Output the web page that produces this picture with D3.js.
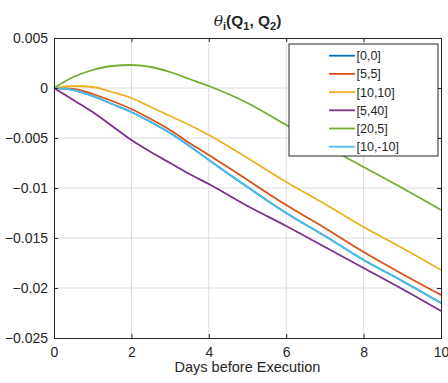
<!DOCTYPE html>
<html>
<head>
<meta charset="utf-8">
<script src="https://cdn.jsdelivr.net/npm/d3@7"></script>
<style>
  body { margin: 0; background: #fff; }
  #chart { width: 448px; height: 383px; }
  text { font-family: "Liberation Sans", Arial, Helvetica, sans-serif; fill: #262626; }
</style>
</head>
<body>
<div id="chart"></div>
<script>
const days = [0, 0.5, 1, 1.5, 2, 2.5, 3, 3.5, 4, 5, 6, 7, 8, 9, 10];
const seriesNames = ["[0,0]", "[5,5]", "[10,10]", "[5,40]", "[20,5]", "[10,-10]"];
const theta00   = [0, -0.0002, -0.0008, -0.0016, -0.0024, -0.0034, -0.0045, -0.0058, -0.0072, -0.0099, -0.0125, -0.0148, -0.0172, -0.0193, -0.0215];
const theta55   = [0, -0.0001, -0.0006, -0.0013, -0.0021, -0.0031, -0.0042, -0.0055, -0.0067, -0.0092, -0.0117, -0.0140, -0.0164, -0.0186, -0.0207];
const theta1010 = [0, 0.0002, 0.0001, -0.0004, -0.0010, -0.0019, -0.0028, -0.0037, -0.0047, -0.0070, -0.0094, -0.0116, -0.0139, -0.0160, -0.0182];
const theta540  = [0, -0.0012, -0.0024, -0.0038, -0.0052, -0.0064, -0.0075, -0.0086, -0.0096, -0.0118, -0.0138, -0.0159, -0.0180, -0.0201, -0.0223];
const theta205  = [0, 0.0011, 0.0018, 0.0022, 0.0023, 0.0021, 0.0016, 0.0009, 0.0002, -0.0015, -0.0037, -0.0058, -0.0079, -0.0100, -0.0122];
const theta1010n = [0, -0.0002, -0.0008, -0.0016, -0.0024, -0.0034, -0.0045, -0.0058, -0.0072, -0.0099, -0.0125, -0.0148, -0.0172, -0.0193, -0.0215];
const xTicks = [0, 2, 4, 6, 8, 10];
const yTicks = [0.005, 0, -0.005, -0.01, -0.015, -0.02, -0.025];
const colors = ["#0072BD", "#D95319", "#EDB120", "#7E2F8E", "#77AC30", "#4DBEEE"];

const values = [theta00, theta55, theta1010, theta540, theta205, theta1010n];

const margin = { top: 38, right: 7, bottom: 45, left: 54 };
const fullW = 448, fullH = 383;
const width = fullW - margin.left - margin.right;
const height = fullH - margin.top - margin.bottom;

const svg = d3.select("#chart").append("svg")
  .attr("width", fullW).attr("height", fullH);

const g = svg.append("g").attr("transform", `translate(${margin.left},${margin.top})`);

const x = d3.scaleLinear().domain([0, 10]).range([0, width]);
const y = d3.scaleLinear().domain([-0.025, 0.005]).range([height, 0]);

// grid
g.selectAll(".gx").data(xTicks.slice(1, -1)).enter().append("line")
  .attr("x1", d => x(d)).attr("x2", d => x(d)).attr("y1", 0).attr("y2", height)
  .attr("stroke", "#dcdcdc").attr("stroke-width", 1);
g.selectAll(".gy").data(yTicks.slice(1, -1)).enter().append("line")
  .attr("y1", d => y(d)).attr("y2", d => y(d)).attr("x1", 0).attr("x2", width)
  .attr("stroke", "#dcdcdc").attr("stroke-width", 1);

// lines
const line = d3.line().x((d, i) => x(days[i])).y(d => y(d)).curve(d3.curveMonotoneX);
values.forEach((v, k) => {
  g.append("path").datum(v)
    .attr("fill", "none").attr("stroke", colors[k]).attr("stroke-width", 1.8)
    .attr("d", line);
});

// axes with inward ticks on all sides
const tk = 4;
g.append("g").attr("transform", `translate(0,${height})`)
  .call(d3.axisBottom(x).tickValues(xTicks).tickSize(-tk).tickPadding(9).tickFormat(d3.format("d")))
  .call(a => a.selectAll("text").style("font-size", "14px"));
g.append("g")
  .call(d3.axisLeft(y).tickValues(yTicks).tickSize(-tk).tickPadding(6).tickFormat(d => d === 0 ? "0" : d3.format("")(+d.toFixed(3))))
  .call(a => a.selectAll("text").style("font-size", "14px"));
g.append("g").call(d3.axisTop(x).tickValues(xTicks).tickSize(-tk).tickFormat(""));
g.append("g").attr("transform", `translate(${width},0)`)
  .call(d3.axisRight(y).tickValues(yTicks).tickSize(-tk).tickFormat(""));
g.selectAll(".domain, .tick line").attr("stroke", "#262626");

// labels
svg.append("text")
  .attr("x", margin.left + width / 2).attr("y", 372)
  .attr("text-anchor", "middle").style("font-size", "14.5px")
  .text("Days before Execution");

const title = svg.append("text")
  .attr("x", margin.left + width / 2).attr("y", 26)
  .attr("text-anchor", "middle").style("font-size", "15.5px").style("font-weight", "bold");
title.append("tspan").style("font-style", "italic").style("font-family", "'DejaVu Serif', serif").style("font-weight", "normal").text("θ");
title.append("tspan").attr("dy", 4).style("font-size", "11px").text("i");
title.append("tspan").attr("dy", -4).text("(Q");
title.append("tspan").attr("dy", 4).style("font-size", "11px").text("1");
title.append("tspan").attr("dy", -4).text(", Q");
title.append("tspan").attr("dy", 4).style("font-size", "11px").text("2");
title.append("tspan").attr("dy", -4).text(")");

// legend
const lg = svg.append("g").attr("transform", "translate(289,44)");
lg.append("rect").attr("width", 149).attr("height", 112)
  .attr("fill", "#fff").attr("stroke", "#262626").attr("stroke-width", 1);
seriesNames.forEach((name, k) => {
  const yy = 11.7 + k * 18.2;
  lg.append("line").attr("x1", 40).attr("x2", 66).attr("y1", yy).attr("y2", yy)
    .attr("stroke", colors[k]).attr("stroke-width", 1.8);
  lg.append("text").attr("x", 67.5).attr("y", yy + 4.5).style("font-size", "12.5px").text(name);
});
</script>
</body>
</html>
